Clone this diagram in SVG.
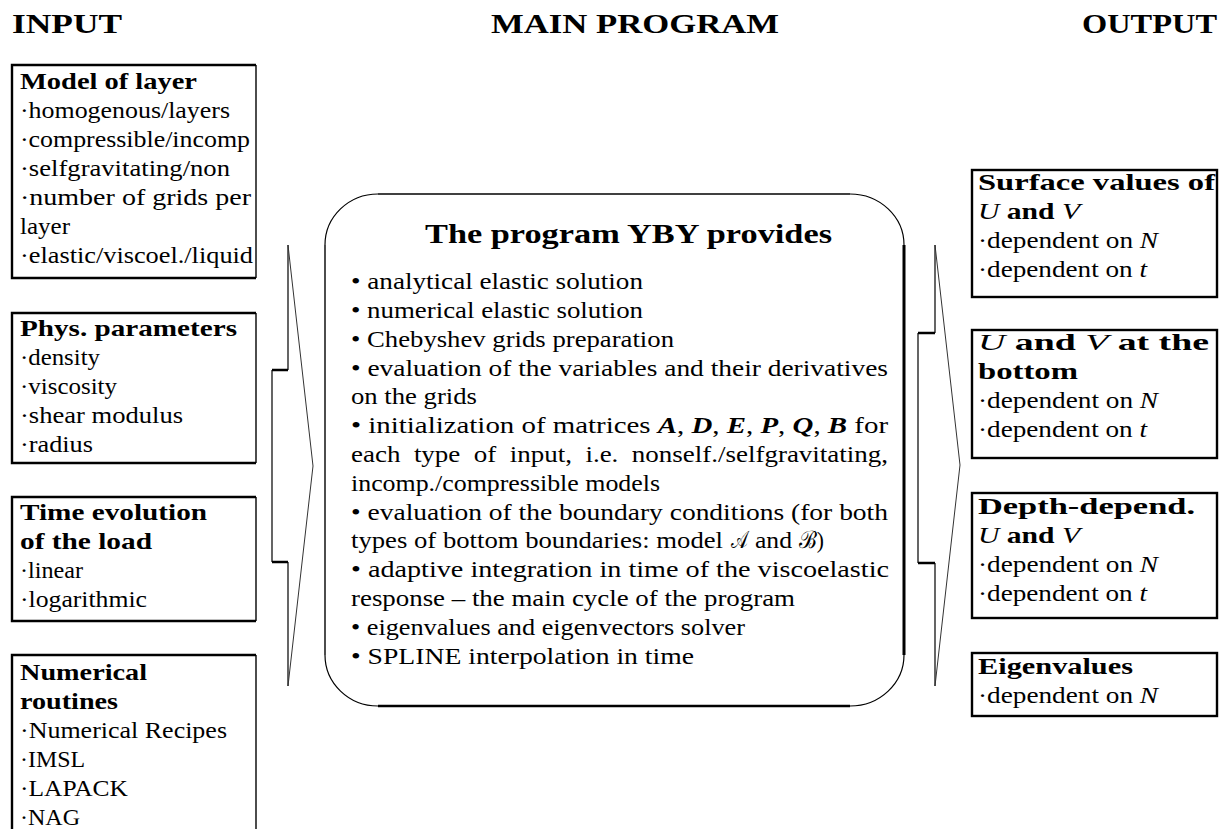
<svg xmlns="http://www.w3.org/2000/svg" width="1224" height="829" viewBox="0 0 1224 829">
<style>
.t{font-family:"Liberation Serif","Times New Roman",serif;font-size:24px;fill:#000}
.b{font-weight:bold}
.h{font-family:"Liberation Serif","Times New Roman",serif;font-size:28px;font-weight:bold;fill:#000}
.i{font-style:italic;font-weight:normal}
.bi{font-style:italic;font-weight:bold}
.box{fill:none;stroke:#000;stroke-width:2.4}
.thin{fill:none;stroke:#000;stroke-width:1.4}
.arc{fill:none;stroke:#000;stroke-width:1.2}
.thick{fill:none;stroke:#000;stroke-width:3}
.brk{fill:none;stroke:#000;stroke-width:1.2}
.step{fill:none;stroke:#000;stroke-width:2.6}
.arr{fill:none;stroke:#333;stroke-width:1}
</style>
<rect width="1224" height="829" fill="#fff"/>

<g id="headers">
<text class="h" x="12" y="33" textLength="110" lengthAdjust="spacingAndGlyphs">INPUT</text>
<text class="h" x="491" y="33" textLength="288" lengthAdjust="spacingAndGlyphs">MAIN PROGRAM</text>
<text class="h" x="1082" y="33" textLength="135" lengthAdjust="spacingAndGlyphs">OUTPUT</text>
</g>

<g id="connectors">
<path class="brk" d="M288,245 V370 M272,370 V562 M288,562 V686"/>
<path class="step" d="M288,370 H272 M272,562 H288"/>
<path class="arr" d="M288,245 L313,466 L288,686"/>
<path class="brk" d="M935,245 V333 M918,333 V563 M935,563 V686"/>
<path class="step" d="M935,333 H918 M918,563 H935"/>
<path class="arr" d="M935,245 L960,465 L935,686"/>
</g>

<g id="model-of-layer">
<path class="box" d="M256,65 H12 V278 H256"/>
<path class="thin" d="M256,65 V278"/>
<text class="t b" x="20" y="89" textLength="177" lengthAdjust="spacingAndGlyphs">Model of layer</text>
<text class="t" x="20" y="118" textLength="210" lengthAdjust="spacingAndGlyphs">·homogenous/layers</text>
<text class="t" x="20" y="147" textLength="230" lengthAdjust="spacingAndGlyphs">·compressible/incomp</text>
<text class="t" x="20" y="176" textLength="210" lengthAdjust="spacingAndGlyphs">·selfgravitating/non</text>
<text class="t" x="20" y="205" textLength="231" lengthAdjust="spacingAndGlyphs">·number of grids per</text>
<text class="t" x="20" y="234" textLength="50" lengthAdjust="spacingAndGlyphs">layer</text>
<text class="t" x="20" y="263" textLength="233" lengthAdjust="spacingAndGlyphs">·elastic/viscoel./liquid</text>
</g>

<g id="phys-parameters">
<path class="box" d="M256,313 H12 V463 H256"/>
<path class="thin" d="M256,313 V463"/>
<text class="t b" x="20" y="336" textLength="217" lengthAdjust="spacingAndGlyphs">Phys. parameters</text>
<text class="t" x="20" y="365" textLength="80" lengthAdjust="spacingAndGlyphs">·density</text>
<text class="t" x="20" y="394" textLength="97" lengthAdjust="spacingAndGlyphs">·viscosity</text>
<text class="t" x="20" y="423" textLength="163" lengthAdjust="spacingAndGlyphs">·shear modulus</text>
<text class="t" x="20" y="452" textLength="73" lengthAdjust="spacingAndGlyphs">·radius</text>
</g>

<g id="time-evolution">
<path class="box" d="M256,497 H12 V621 H256"/>
<path class="thin" d="M256,497 V621"/>
<text class="t b" x="20" y="520" textLength="187" lengthAdjust="spacingAndGlyphs">Time evolution</text>
<text class="t b" x="20" y="549" textLength="132" lengthAdjust="spacingAndGlyphs">of the load</text>
<text class="t" x="20" y="578" textLength="63" lengthAdjust="spacingAndGlyphs">·linear</text>
<text class="t" x="20" y="607" textLength="127" lengthAdjust="spacingAndGlyphs">·logarithmic</text>
</g>

<g id="numerical-routines">
<path class="box" d="M12,829 V655 H256"/>
<path class="thin" d="M256,655 V829"/>
<text class="t b" x="20" y="680" textLength="127" lengthAdjust="spacingAndGlyphs">Numerical</text>
<text class="t b" x="20" y="709" textLength="98" lengthAdjust="spacingAndGlyphs">routines</text>
<text class="t" x="20" y="738" textLength="207" lengthAdjust="spacingAndGlyphs">·Numerical Recipes</text>
<text class="t" x="20" y="767" textLength="65" lengthAdjust="spacingAndGlyphs">·IMSL</text>
<text class="t" x="20" y="796" textLength="108" lengthAdjust="spacingAndGlyphs">·LAPACK</text>
<text class="t" x="20" y="825" textLength="60" lengthAdjust="spacingAndGlyphs">·NAG</text>
</g>

<g id="main-program">
<path class="thin" d="M378,194 H850"/>
<path class="arc" d="M850,194 A54,51 0 0 1 904,245"/>
<path class="thick" d="M904,245 V655"/>
<path class="arc" d="M904,655 A54,51 0 0 1 850,706"/>
<path class="step" d="M850,706 H378"/>
<path class="arc" d="M378,706 A53,51 0 0 1 325,655"/>
<path class="thin" d="M325,655 V245"/>
<path class="arc" d="M325,245 A53,51 0 0 1 378,194"/>
<text class="h" x="425" y="243" textLength="407" lengthAdjust="spacingAndGlyphs">The program YBY provides</text>
<text class="t" x="351" y="289" textLength="292" lengthAdjust="spacingAndGlyphs">• analytical elastic solution</text>
<text class="t" x="351" y="318" textLength="292" lengthAdjust="spacingAndGlyphs">• numerical elastic solution</text>
<text class="t" x="351" y="347" textLength="323" lengthAdjust="spacingAndGlyphs">• Chebyshev grids preparation</text>
<text class="t" x="351" y="376" textLength="537" lengthAdjust="spacingAndGlyphs">• evaluation of the variables and their derivatives</text>
<text class="t" x="351" y="404" textLength="126" lengthAdjust="spacingAndGlyphs">on the grids</text>
<text class="t" x="351" y="433" textLength="537" lengthAdjust="spacingAndGlyphs">• initialization of matrices <tspan class="bi">A</tspan>, <tspan class="bi">D</tspan>, <tspan class="bi">E</tspan>, <tspan class="bi">P</tspan>, <tspan class="bi">Q</tspan>, <tspan class="bi">B</tspan> for</text>
<text class="t" x="351" y="462" textLength="537" lengthAdjust="spacingAndGlyphs" word-spacing="6">each type of input, i.e.  nonself./selfgravitating,</text>
<text class="t" x="351" y="491" textLength="309" lengthAdjust="spacingAndGlyphs">incomp./compressible models</text>
<text class="t" x="351" y="520" textLength="537" lengthAdjust="spacingAndGlyphs">• evaluation of the boundary conditions (for both</text>
<text class="t" x="351" y="548" textLength="372" lengthAdjust="spacingAndGlyphs">types of bottom boundaries: model</text>
<text class="t" x="731" y="548" textLength="17" lengthAdjust="spacingAndGlyphs">𝒜</text>
<text class="t" x="755" y="548" textLength="37" lengthAdjust="spacingAndGlyphs">and</text>
<text class="t" x="799" y="548" textLength="25" lengthAdjust="spacingAndGlyphs">ℬ)</text>
<text class="t" x="351" y="577" textLength="538" lengthAdjust="spacingAndGlyphs">• adaptive integration in time of the viscoelastic</text>
<text class="t" x="351" y="606" textLength="444" lengthAdjust="spacingAndGlyphs">response – the main cycle of the program</text>
<text class="t" x="351" y="635" textLength="394" lengthAdjust="spacingAndGlyphs">• eigenvalues and eigenvectors solver</text>
<text class="t" x="351" y="664" textLength="343" lengthAdjust="spacingAndGlyphs">• SPLINE interpolation in time</text>
</g>

<g id="surface-values">
<rect class="box" x="972" y="170" width="245" height="127"/>
<text class="t b" x="978" y="190" textLength="237" lengthAdjust="spacingAndGlyphs">Surface values of</text>
<text class="t b" x="978" y="219" textLength="102" lengthAdjust="spacingAndGlyphs"><tspan class="i">U</tspan> and <tspan class="i">V</tspan></text>
<text class="t" x="978" y="248" textLength="180" lengthAdjust="spacingAndGlyphs">·dependent on <tspan class="i">N</tspan></text>
<text class="t" x="978" y="277" textLength="169" lengthAdjust="spacingAndGlyphs">·dependent on <tspan class="i">t</tspan></text>
</g>

<g id="uv-bottom">
<rect class="box" x="972" y="330" width="245" height="128"/>
<text class="t b" x="978" y="350" textLength="231" lengthAdjust="spacingAndGlyphs"><tspan class="i">U</tspan>  and  <tspan class="i">V</tspan>  at  the</text>
<text class="t b" x="978" y="379" textLength="100" lengthAdjust="spacingAndGlyphs">bottom</text>
<text class="t" x="978" y="408" textLength="180" lengthAdjust="spacingAndGlyphs">·dependent on <tspan class="i">N</tspan></text>
<text class="t" x="978" y="437" textLength="169" lengthAdjust="spacingAndGlyphs">·dependent on <tspan class="i">t</tspan></text>
</g>

<g id="depth-depend">
<rect class="box" x="972" y="493" width="245" height="125"/>
<text class="t b" x="978" y="514" textLength="217" lengthAdjust="spacingAndGlyphs">Depth-depend.</text>
<text class="t b" x="978" y="543" textLength="102" lengthAdjust="spacingAndGlyphs"><tspan class="i">U</tspan> and <tspan class="i">V</tspan></text>
<text class="t" x="978" y="572" textLength="180" lengthAdjust="spacingAndGlyphs">·dependent on <tspan class="i">N</tspan></text>
<text class="t" x="978" y="601" textLength="169" lengthAdjust="spacingAndGlyphs">·dependent on <tspan class="i">t</tspan></text>
</g>

<g id="eigenvalues">
<rect class="box" x="972" y="653" width="245" height="63"/>
<text class="t b" x="978" y="674" textLength="155" lengthAdjust="spacingAndGlyphs">Eigenvalues</text>
<text class="t" x="978" y="703" textLength="180" lengthAdjust="spacingAndGlyphs">·dependent on <tspan class="i">N</tspan></text>
</g>
</svg>
